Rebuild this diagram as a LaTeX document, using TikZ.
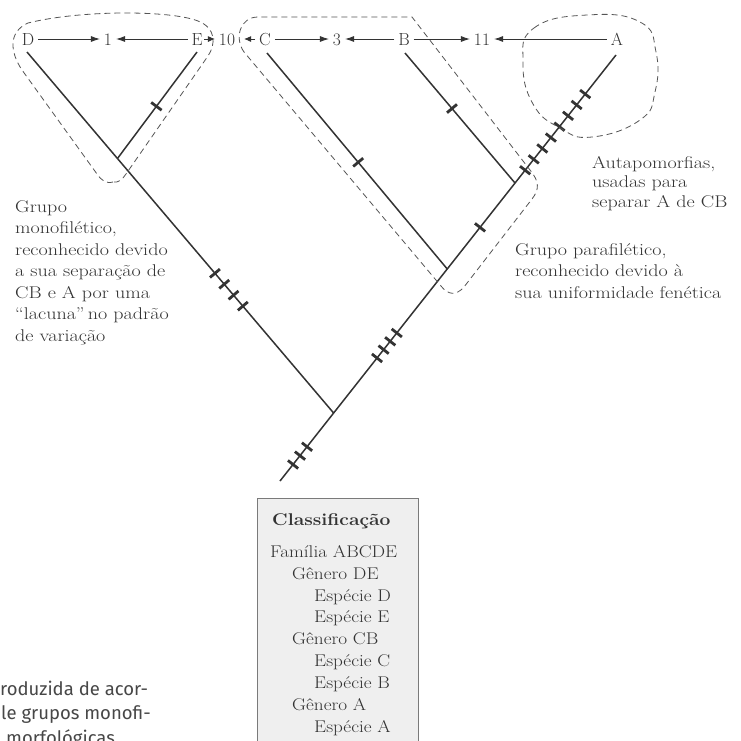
\documentclass[tikz,border=0pt]{standalone}
\usepackage{fontspec}
\usepackage{graphicx}
\newfontfamily\capfont{Fira Sans}
\usetikzlibrary{calc,arrows.meta}
\definecolor{ink}{HTML}{333333}
\definecolor{dashc}{HTML}{555555}
\definecolor{boxfill}{HTML}{EFEFEF}
\definecolor{boxline}{HTML}{7A7A7A}
\newcommand\W[1]{\scalebox{1.18}[1]{#1}}
\newcommand\Wc[1]{\scalebox{1.13}[1]{#1}}
\newcommand\tickat[3]{%
  \coordinate (tk) at ($(#1)!#3!(#2)$);
  \draw[tickmark] ($(tk)!6.5pt!90:(#2)$) -- ($(tk)!6.5pt!-90:(#2)$);
}
\tikzset{
  tree/.style={draw=ink, line width=1.5pt},
  tickmark/.style={draw=ink, line width=2.8pt},
  grp/.style={draw=dashc, line width=0.8pt, dash pattern=on 6pt off 4pt},
  lbl/.style={text=ink, font=\fontsize{17.5}{20}\selectfont, inner sep=0pt, outer sep=4pt, text height=12pt, text depth=0pt},
  arr/.style={draw=ink, line width=0.9pt, -{Latex[length=9pt,width=6pt]}},
  sarr/.style={draw=ink, line width=0.9pt, -{Latex[length=7pt,width=6pt]}},
  note/.style={text=ink, font=\fontsize{17}{21.5}\selectfont, inner sep=0pt, anchor=base west},
  cls/.style={text=ink, font=\fontsize{17}{20}\selectfont, inner sep=0pt, anchor=base west},
  capt/.style={text=ink!90, font=\capfont\fontsize{18.5}{22}\selectfont, inner sep=0pt, anchor=base west}
}
\begin{document}
\begin{tikzpicture}[x=1pt, y=-1pt]
\useasboundingbox[fill=white] (0,0) rectangle (741,740);

% top labels
\node[lbl] (nD) at (28,39) {D};
\node[lbl] (n1) at (108,39) {1};
\node[lbl] (nE) at (197,39) {E};
\node[lbl] (n10) at (227,39) {10};
\node[lbl] (nC) at (265,39) {C};
\node[lbl] (n3) at (337,39) {3};
\node[lbl] (nB) at (404,39) {B};
\node[lbl] (n11) at (482,39) {11};
\node[lbl] (nA) at (617,39) {A};

\draw[arr] (nD) -- (n1);
\draw[arr] (nE) -- (n1);
\draw[sarr, shorten <=-2pt] (nE) -- (n10);
\draw[sarr, shorten >=5pt] (nC) -- (n10);
\draw[arr] (nC) -- (n3);
\draw[arr] (nB) -- (n3);
\draw[arr] (nB) -- (n11);
\draw[arr] (nA) -- (n11);

% tree
\coordinate (tD) at (27,52);
\coordinate (tE) at (197,52);
\coordinate (tC) at (267,53);
\coordinate (tB) at (405,53);
\coordinate (tA) at (616,55);
\coordinate (R0) at (280,481);
\coordinate (J1) at ($(R0)!0.1596!(tA)$);
\coordinate (J2) at ($(R0)!0.4977!(tA)$);
\coordinate (J3) at ($(R0)!0.6995!(tA)$);
\coordinate (Ej) at ($(tD)!0.295!(J1)$);

\draw[tree] (R0) -- (tA);
\draw[tree] (tD) -- (J1);
\draw[tree] (tE) -- (Ej);
\draw[tree] (tC) -- (J2);
\draw[tree] (tB) -- (J3);

% ticks
\tickat{tE}{Ej}{0.51}
\foreach \t in {0.451,0.494,0.537,0.58} {\tickat{Ej}{J1}{\t}}
\tickat{tC}{J2}{0.506}
\tickat{tB}{J3}{0.427}
\foreach \t in {0.243,0.373,0.504} {\tickat{R0}{J1}{\t}}
\foreach \t in {0.382,0.440,0.498,0.556} {\tickat{J1}{J2}{\t}}
\tickat{J2}{J3}{0.484}
\foreach \t in {0.10,0.185,0.27,0.355,0.44,0.525,0.61,0.695} {\tickat{J3}{tA}{\t}}

% dashed groups
\draw[grp] (113,182) .. controls (106,184) and (101,180) .. (97,174)
  -- (22,70) .. controls (10,52) and (8,32) .. (28,23)
  .. controls (80,10) and (170,10) .. (198,21)
  .. controls (216,28) and (216,44) .. (208,56)
  -- (126,174) .. controls (122,180) and (118,183) .. (113,182) -- cycle;

\draw[grp] (244,52) .. controls (234,38) and (240,17) .. (258,17)
  -- (412,17) -- (530,170) .. controls (540,182) and (539,190) .. (532,199)
  -- (464,287) .. controls (456,296) and (448,295) .. (441,286) -- cycle;

\draw[grp] plot[smooth cycle, tension=0.8] coordinates {(523,62) (534,28) (587,15) (640,22) (656,52) (655,92) (640,120) (592,137) (560,128) (533,104)};

% annotations
\node[note] (tmono) at (15,212) {\W{\begin{tabular}[t]{@{}l@{}}Grupo\\monofilético,\\reconhecido devido\\a sua separação de\\CB e A por uma\\``lacuna''\,no padrão\\de variação\end{tabular}}};
\node[note] (tpara) at (515,255) {\W{\begin{tabular}[t]{@{}l@{}}Grupo parafilético,\\reconhecido devido à\\sua uniformidade fenética\end{tabular}}};
\node[note, font=\fontsize{17}{19.5}\selectfont] (taut) at (592,168) {\W{\begin{tabular}[t]{@{}l@{}}Autapomorfias,\\usadas para\\separar A de CB\end{tabular}}};

% classification box
\fill[boxfill] (257,498) rectangle (418,745);
\draw[boxline, line width=1pt] (257,745) -- (257,498) -- (418,498) -- (418,745);
\node[cls, font=\fontsize{17}{20}\selectfont\bfseries] (c0) at (272,525) {\Wc{Classificação}};
\node[cls] (c1) at (270,557) {\Wc{Família ABCDE}};
\node[cls] (c2) at (292,579) {\Wc{Gênero DE}};
\node[cls] (c3) at (314,601) {\Wc{Espécie D}};
\node[cls] (c4) at (314,622.5) {\Wc{Espécie E}};
\node[cls] (c5) at (292,644) {\Wc{Gênero CB}};
\node[cls] (c6) at (314,666) {\Wc{Espécie C}};
\node[cls] (c7) at (314,688) {\Wc{Espécie B}};
\node[cls] (c8) at (292,710) {\Wc{Gênero A}};
\node[cls] (c9) at (314,732) {\Wc{Espécie A}};

% clipped caption
\begin{scope}
\clip (0,0) rectangle (741,740);
\node[capt] (k1) at (0,695) {roduzida de acor-};
\node[capt] (k2) at (1,719) {le grupos monofi-};
\node[capt] (k3) at (6,744) {morfológicas};
\end{scope}
\end{tikzpicture}
\end{document}
